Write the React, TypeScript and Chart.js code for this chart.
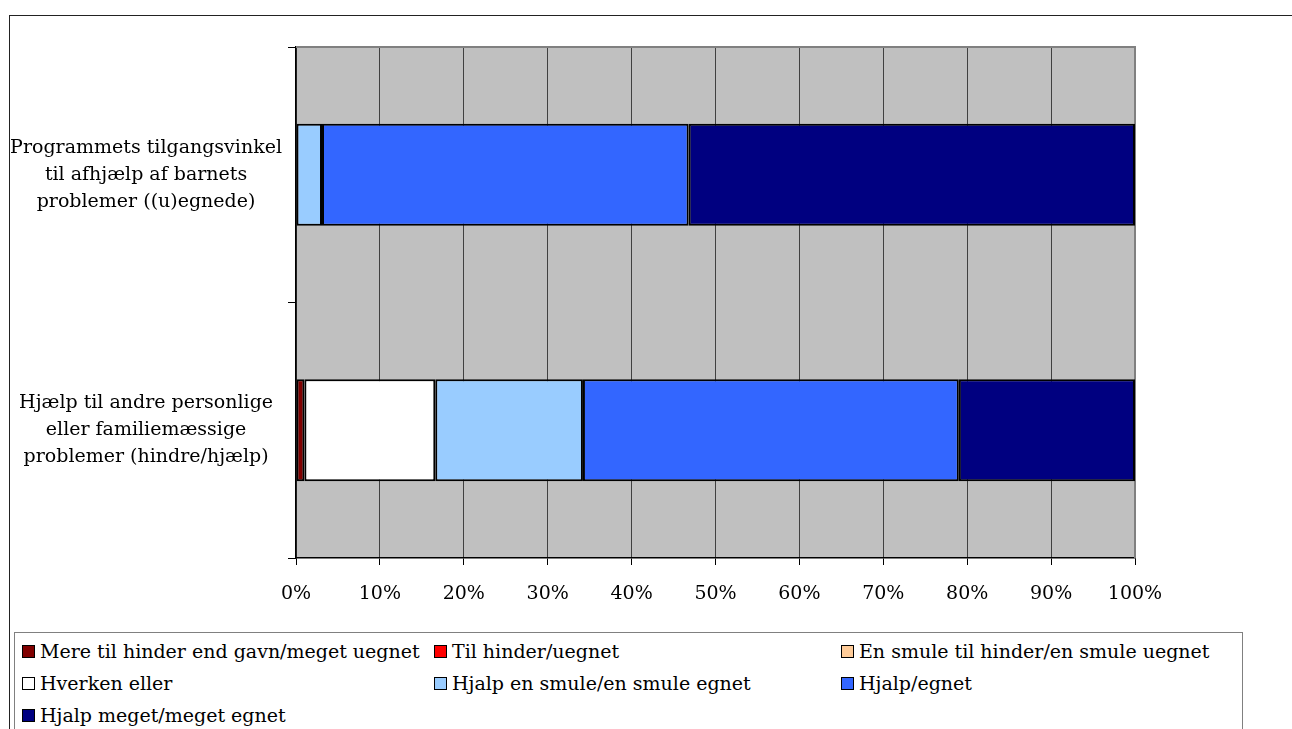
import React, { useEffect, useRef } from "react";
import { Chart, registerables } from "chart.js";

Chart.register(...registerables);

// ---- data ----
const categories: string[][] = [
  ["Programmets tilgangsvinkel", "til afhjælp af barnets", "problemer ((u)egnede)"],
  ["Hjælp til andre personlige", "eller familiemæssige", "problemer (hindre/hjælp)"],
];

const seriesNames: string[] = [
  "Mere til hinder end gavn/meget uegnet",
  "Til hinder/uegnet",
  "En smule til hinder/en smule uegnet",
  "Hverken eller",
  "Hjalp en smule/en smule egnet",
  "Hjalp/egnet",
  "Hjalp meget/meget egnet",
];

const seriesColors: string[] = [
  "#800000",
  "#FF0000",
  "#FFCC99",
  "#FFFFFF",
  "#99CCFF",
  "#3366FF",
  "#000080",
];

const mereTilHinder: number[] = [0, 1.0];
const tilHinder: number[] = [0, 0];
const enSmuleTilHinder: number[] = [0, 0];
const hverkenEller: number[] = [0, 15.6];
const hjalpEnSmule: number[] = [3.1, 17.6];
const hjalpEgnet: number[] = [43.7, 44.8];
const hjalpMeget: number[] = [53.2, 21.0];

const seriesValues: number[][] = [
  mereTilHinder,
  tilHinder,
  enSmuleTilHinder,
  hverkenEller,
  hjalpEnSmule,
  hjalpEgnet,
  hjalpMeget,
];

const xTickValues: number[] = [0, 10, 20, 30, 40, 50, 60, 70, 80, 90, 100];

const FONT = "'DejaVu Serif', 'Liberation Serif', serif";

const plotPlugin = {
  id: "plotDecor",
  beforeDraw(chart: any) {
    const { ctx, chartArea: a } = chart;
    ctx.save();
    ctx.fillStyle = "#C0C0C0";
    ctx.fillRect(a.left, a.top, a.right - a.left, a.bottom - a.top);
    ctx.restore();
  },
  beforeDatasetsDraw(chart: any) {
    const { ctx, chartArea: a } = chart;
    ctx.save();
    ctx.strokeStyle = "#808080";
    ctx.lineWidth = 2;
    ctx.beginPath();
    ctx.moveTo(a.left, a.top);
    ctx.lineTo(a.right, a.top);
    ctx.lineTo(a.right, a.bottom);
    ctx.stroke();
    ctx.restore();
  },
};

export default function App() {
  const canvasRef = useRef<HTMLCanvasElement | null>(null);

  useEffect(() => {
    if (!canvasRef.current) return;
    const chart = new Chart(canvasRef.current, {
      type: "bar",
      data: {
        labels: categories,
        datasets: seriesNames.map((name, i) => ({
          label: name,
          data: seriesValues[i],
          backgroundColor: seriesColors[i],
          borderColor: "#000000",
          borderWidth: 2,
          borderSkipped: false,
          categoryPercentage: 1,
          barPercentage: 0.4,
        })),
      },
      options: {
        indexAxis: "y",
        responsive: false,
        animation: false,
        events: [],
        layout: { padding: { left: 0, top: 47, right: 157, bottom: 0 } },
        plugins: {
          legend: { display: false },
          tooltip: { enabled: false },
          title: { display: false },
        },
        scales: {
          x: {
            stacked: true,
            min: 0,
            max: 100,
            afterBuildTicks: (s: any) => {
              s.ticks = xTickValues.map((v) => ({ value: v }));
            },
            ticks: {
              callback: (v: any) => v + "%",
              color: "#000",
              padding: 18,
              maxRotation: 0,
              autoSkip: false,
              font: { family: FONT, size: 19 },
            },
            grid: {
              color: "#404040",
              lineWidth: 1,
              tickLength: 7,
              tickColor: "#000",
            },
            border: { display: true, color: "#000", width: 1.5 },
            afterFit: (s: any) => {
              s.height = 171;
              s.paddingLeft = 0;
              s.paddingRight = 0;
            },
          },
          y: {
            stacked: true,
            grid: {
              offset: true,
              drawOnChartArea: false,
              drawTicks: true,
              tickLength: 8,
              color: "#000",
            },
            border: { display: true, color: "#000", width: 1.5 },
            ticks: {
              crossAlign: "center",
              padding: 6,
              color: "#000",
              autoSkip: false,
              font: { family: FONT, size: 19, lineHeight: 1.42 },
            },
            afterFit: (s: any) => {
              s.width = 296;
              s.paddingTop = 0;
              s.paddingBottom = 0;
            },
          },
        },
      },
      plugins: [plotPlugin],
    } as any);
    return () => chart.destroy();
  }, []);

  const colX = [22, 434, 841];
  const rowY = [651, 683, 715];

  return (
    <div
      style={{
        position: "fixed",
        left: 0,
        top: 0,
        width: 1292,
        height: 729,
        overflow: "hidden",
        background: "#fff",
      }}
    >
      <div
        style={{
          position: "absolute",
          left: 9,
          top: 15,
          width: 1400,
          height: 800,
          border: "1px solid #222",
        }}
      />
      <canvas
        ref={canvasRef}
        width={1292}
        height={729}
        style={{ position: "absolute", left: 0, top: 0, width: 1292, height: 729 }}
      />
      <div
        style={{
          position: "absolute",
          left: 14,
          top: 632,
          width: 1227,
          height: 200,
          border: "1px solid #808080",
          background: "#fff",
        }}
      />
      {seriesNames.map((name, i) => {
        const col = i % 3;
        const row = Math.floor(i / 3);
        return (
          <div
            key={name}
            style={{
              position: "absolute",
              left: colX[col],
              top: rowY[row] - 14,
              height: 28,
              display: "flex",
              alignItems: "center",
              fontFamily: FONT,
              fontSize: 19,
              color: "#000",
              whiteSpace: "nowrap",
            }}
          >
            <span
              style={{
                display: "inline-block",
                width: 11,
                height: 11,
                border: "1.5px solid #000",
                background: seriesColors[i],
                marginRight: 5,
                boxSizing: "content-box",
              }}
            />
            <span>{name}</span>
          </div>
        );
      })}
    </div>
  );
}
